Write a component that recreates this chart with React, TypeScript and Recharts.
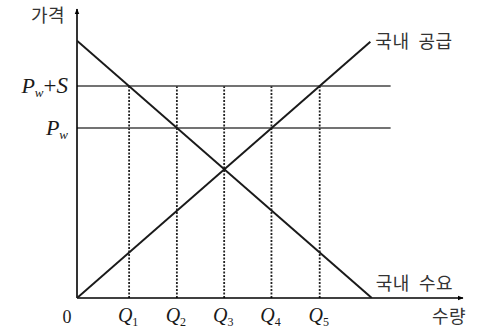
import React from "react";
import { LineChart, Line, XAxis, YAxis, ReferenceLine } from "recharts";

// quantity axis runs 0..80, price axis 0..60 (arbitrary units)
const X_MAX = 80;
const Y_MAX = 60;

const demand = [
  { q: 0, p: 53.4 },
  { q: 61.1, p: 0 },
];
const supply = [
  { q: 0, p: 0 },
  { q: 60.8, p: 53.2 },
];

const PW = 35.3;
const PW_S = 44;
const PRICE_LINE_END = 65;

const quantities = [10.8, 20.7, 30.5, 40.3, 50.3];
const quantityLabels = ["1", "2", "3", "4", "5"];

const INK = "#1a1a1a";
const KO_FONT = "'Noto Sans CJK KR', 'Noto Sans', sans-serif";
const MATH_FONT = "'Liberation Serif', 'DejaVu Serif', serif";

const XTick = (props: any) => {
  const { x, y, payload, index } = props;
  if (payload.value === 0) {
    return (
      <text x={x - 10} y={y + 17} textAnchor="middle" fontFamily={MATH_FONT} fontSize={18} fill={INK}>
        0
      </text>
    );
  }
  const i = quantities.indexOf(payload.value);
  return (
    <text x={x - 1} y={y + 16} textAnchor="middle" fontFamily={MATH_FONT} fontSize={20} fontStyle="italic" fill={INK}>
      Q
      <tspan fontSize={12} fontStyle="normal" dy={4}>{quantityLabels[i] ?? index}</tspan>
    </text>
  );
};

const YTick = (props: any) => {
  const { y, payload } = props;
  const withS = payload.value === PW_S;
  return (
    <text x={68} y={y + 7} textAnchor="end" fontFamily={MATH_FONT} fontSize={22} fontStyle="italic" fill={INK}>
      P
      <tspan fontSize={13} dy={4}>w</tspan>
      {withS ? (
        <tspan dy={-4} fontSize={23} fontStyle="normal">
          +<tspan fontStyle="italic">S</tspan>
        </tspan>
      ) : null}
    </text>
  );
};

const arrowLine = (p: any) => (
  <line x1={p.x1} y1={p.y1} x2={p.x2} y2={p.y2} stroke="#000" strokeWidth={1.6} markerEnd="url(#arrowHead)" />
);

const endLabel = (text: string, dx: number, dy: number, lastIndex: number) => (p: any) => {
  if (p.index !== lastIndex) return null;
  return (
    <text x={p.x + dx} y={p.y + dy} fontFamily={KO_FONT} fontSize={18} fill="#333" letterSpacing={0.5} style={{ whiteSpace: "pre" }}>
      {text}
    </text>
  );
};

export default function App() {
  return (
    <div style={{ position: "absolute", left: 0, top: 0, width: 480, height: 331, background: "#fff" }}>
      <LineChart width={480} height={331} margin={{ top: 9, right: 17, bottom: 3, left: 0 }}>
        <defs>
          <marker id="arrowHead" viewBox="0 0 10 10" refX="9" refY="5" markerWidth="6" markerHeight="6" orient="auto" markerUnits="userSpaceOnUse">
            <path d="M0,1 L10,5 L0,9 z" fill="#000" />
          </marker>
        </defs>
        <XAxis
          type="number"
          dataKey="q"
          domain={[0, X_MAX]}
          ticks={[0, ...quantities]}
          tick={<XTick />}
          tickLine={false}
          axisLine={false}
          height={30}
          allowDataOverflow
        />
        <YAxis
          type="number"
          dataKey="p"
          domain={[0, Y_MAX]}
          ticks={[PW, PW_S]}
          tick={<YTick />}
          tickLine={false}
          axisLine={false}
          width={77}
          allowDataOverflow
        />

        {quantities.map((q) => (
          <ReferenceLine
            key={q}
            segment={[{ x: q, y: 0 }, { x: q, y: PW_S }]}
            stroke="#222"
            strokeWidth={1.8}
            strokeDasharray="2 1.5"
          />
        ))}
        <ReferenceLine segment={[{ x: 0, y: PW_S }, { x: PRICE_LINE_END, y: PW_S }]} stroke="#444" strokeWidth={1.6} />
        <ReferenceLine segment={[{ x: 0, y: PW }, { x: PRICE_LINE_END, y: PW }]} stroke="#444" strokeWidth={1.6} />

        <ReferenceLine segment={[{ x: 0, y: 0 }, { x: X_MAX, y: 0 }]} shape={arrowLine} />
        <ReferenceLine segment={[{ x: 0, y: 0 }, { x: 0, y: Y_MAX }]} shape={arrowLine} />

        <Line
          data={demand}
          dataKey="p"
          type="linear"
          stroke={INK}
          strokeWidth={2}
          dot={false}
          isAnimationActive={false}
          label={endLabel("국내  수요", 4, -8, demand.length - 1)}
        />
        <Line
          data={supply}
          dataKey="p"
          type="linear"
          stroke={INK}
          strokeWidth={2}
          dot={false}
          isAnimationActive={false}
          label={endLabel("국내  공급", 5, 6, supply.length - 1)}
        />

        <text x={31} y={22} fontFamily={KO_FONT} fontSize={18} fill="#333" letterSpacing={0.5}>가격</text>
        <text x={432} y={323} fontFamily={KO_FONT} fontSize={18} fill="#333" letterSpacing={0.5}>수량</text>
      </LineChart>
    </div>
  );
}
